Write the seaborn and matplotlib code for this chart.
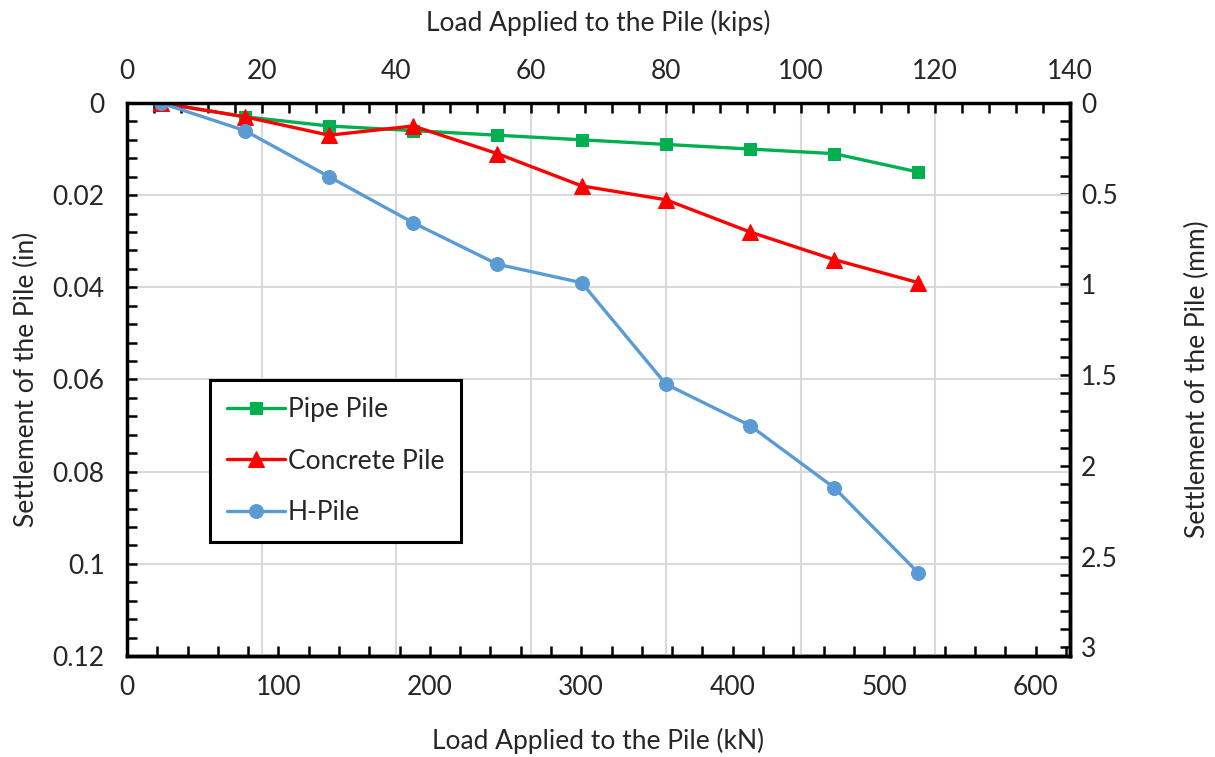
import matplotlib
matplotlib.use("Agg")
import matplotlib.pyplot as plt
import seaborn as sns
import numpy as np
from matplotlib.ticker import MultipleLocator, FixedLocator, FuncFormatter

# Data (load in kips, settlement in inches)
load_kips = [5, 17.5, 30, 42.5, 55, 67.5, 80, 92.5, 105, 117.5]
pipe_pile = [0, 0.003, 0.005, 0.006, 0.007, 0.008, 0.009, 0.010, 0.011, 0.015]
concrete_pile = [0, 0.003, 0.007, 0.005, 0.011, 0.018, 0.021, 0.028, 0.034, 0.039]
h_pile = [0, 0.006, 0.016, 0.026, 0.035, 0.039, 0.061, 0.070, 0.0835, 0.102]

series_names = ['Pipe Pile', 'Concrete Pile', 'H-Pile']
series_colors = ['#00B050', '#FF0000', '#5B9BD5']
series_markers = ['s', '^', 'o']
series_msize = [8, 12, 10]

kn_ticks = [0, 100, 200, 300, 400, 500, 600]
mm_ticks = [0, 0.5, 1, 1.5, 2, 2.5, 3]

KN_PER_KIP = 4.44822
MM_PER_IN = 25.4

sns.set_theme(style='white')
plt.rcParams['font.family'] = ['Lato', 'DejaVu Sans']
fs = 19

fig = plt.figure(figsize=(12.15, 7.57), dpi=100)
ax = fig.add_axes([0.1045, 0.1334, 0.7762, 0.7306])

for ys, name, c, m, ms in zip([pipe_pile, concrete_pile, h_pile], series_names,
                              series_colors, series_markers, series_msize):
    sns.lineplot(x=load_kips, y=ys, ax=ax, color=c, marker=m, markersize=ms,
                 markeredgecolor=c, linewidth=2.4, label=name, sort=False)

ax.set_xlim(0, 140)
ax.set_ylim(0.12, 0)

# top axis (kips)
ax.xaxis.set_ticks_position('top')
ax.xaxis.set_label_position('top')
ax.xaxis.set_major_locator(MultipleLocator(20))
ax.xaxis.set_minor_locator(MultipleLocator(4))
ax.set_xlabel('Load Applied to the Pile (kips)', fontsize=fs, labelpad=20)

# left axis (in)
ax.yaxis.set_major_locator(MultipleLocator(0.02))
ax.yaxis.set_minor_locator(MultipleLocator(0.004))
ax.yaxis.set_major_formatter(FuncFormatter(lambda v, p: '%g' % round(v, 4)))
ax.set_ylabel('Settlement of the Pile (in)', fontsize=fs, labelpad=10)

ax.grid(True, which='major', color='#D9D9D9', linewidth=1.5)
ax.set_axisbelow(True)

tick_kw = dict(direction='in', length=7, width=1.8, color='black', labelsize=fs)
ax.tick_params(axis='x', which='both', top=True, bottom=False, pad=14, **tick_kw)
ax.tick_params(axis='y', which='both', left=True, right=False, pad=16, **tick_kw)

# bottom axis (kN)
secx = ax.secondary_xaxis('bottom', functions=(lambda k: k * KN_PER_KIP,
                                               lambda n: n / KN_PER_KIP))
secx.xaxis.set_major_locator(FixedLocator(kn_ticks))
secx.xaxis.set_minor_locator(FixedLocator(np.arange(0, 621, 20)))
secx.set_xlabel('Load Applied to the Pile (kN)', fontsize=fs, labelpad=20)
secx.tick_params(axis='x', which='both', pad=14, **tick_kw)

# right axis (mm)
secy = ax.secondary_yaxis('right', functions=(lambda i: i * MM_PER_IN,
                                              lambda m: m / MM_PER_IN))
secy.yaxis.set_major_locator(FixedLocator(mm_ticks))
secy.yaxis.set_minor_locator(FixedLocator(np.arange(0, 3.01, 0.1)))
secy.yaxis.set_major_formatter(FuncFormatter(lambda v, p: '%g' % round(v, 3)))
secy.set_ylabel('Settlement of the Pile (mm)', fontsize=fs, labelpad=48)
secy.tick_params(axis='y', which='both', pad=8, **tick_kw)

for a in (ax, secx, secy):
    for s in a.spines.values():
        s.set_linewidth(2.5)
        s.set_color('black')

leg = ax.legend(loc='lower left', bbox_to_anchor=(0.088, 0.206), borderaxespad=0,
                fontsize=fs, frameon=True, fancybox=False, framealpha=1,
                edgecolor='black', labelspacing=1.0, handlelength=2.2,
                handletextpad=0.1, borderpad=0.65)
leg.get_frame().set_linewidth(2.2)

fig.savefig('out.png', dpi=100)
